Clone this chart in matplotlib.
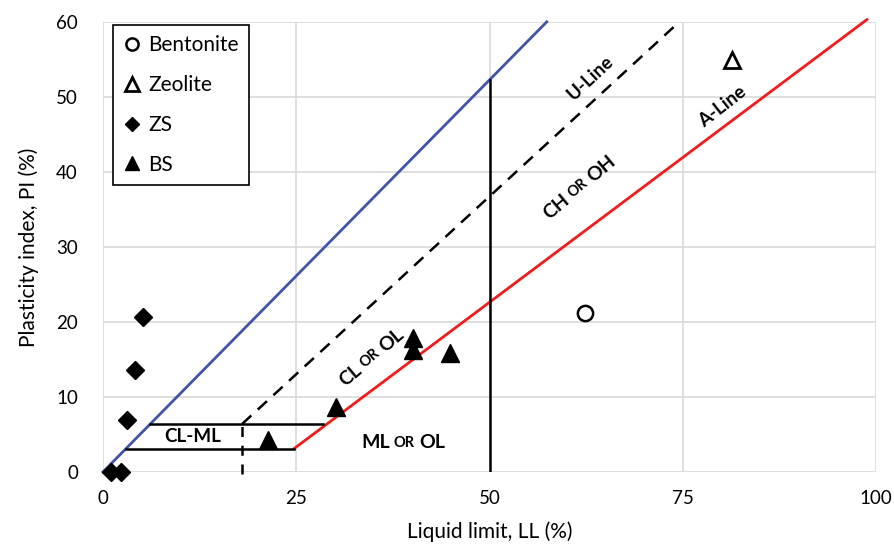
import matplotlib
matplotlib.use('Agg')
import matplotlib.pyplot as plt
import matplotlib.transforms as mtransforms
import numpy as np

plt.rcParams['font.family'] = ['Lato', 'DejaVu Sans']

# sample points (LL, PI)
bentonite_ll = [62.3]
bentonite_pi = [21.2]
zeolite_ll = [81.3]
zeolite_pi = [54.9]
zs_ll = [5.2, 4.2, 3.1, 1.1, 2.3]
zs_pi = [20.7, 13.6, 6.9, 0.0, 0.0]
bs_ll = [21.3, 30.2, 40.1, 40.1, 44.9]
bs_pi = [4.3, 8.7, 17.9, 16.3, 15.9]

# chart boundary lines
blue_ll = [0, 57.4]
blue_pi = [0, 60]
u_line_ll = [18.0, 73.8]
u_line_pi = [6.4, 59.3]
a_line_ll = [24.7, 98.8]
a_line_pi = [3.1, 60.3]
ll50_ll = [50, 50]
ll50_pi = [0, 52.3]
clml_top_ll = [6.1, 28.4]
clml_top_pi = [6.4, 6.4]
clml_bot_ll = [3.0, 24.7]
clml_bot_pi = [3.1, 3.1]
ll18_ll = [18.0, 18.0]
ll18_pi = [-0.3, 7.0]

x_ticks = [0, 25, 50, 75, 100]
y_ticks = [0, 10, 20, 30, 40, 50, 60]

fig = plt.figure(figsize=(8.95, 5.51), dpi=100)
ax = fig.add_axes([0.115, 0.1434, 0.864, 0.817])

ax.set_xlim(0, 100)
ax.set_ylim(0, 60)
ax.set_xticks(x_ticks)
ax.set_yticks(y_ticks)
ax.tick_params(axis='x', length=0, labelsize=13.5, pad=13)
ax.tick_params(axis='y', length=0, labelsize=13.5, pad=18)
ax.grid(True, color='#d9d9d9', lw=1.2)
ax.set_axisbelow(True)
for s in ax.spines.values():
    s.set_visible(False)

ax.set_xlabel('Liquid limit, LL (%)', fontsize=15, labelpad=10)
ax.set_ylabel('Plasticity index, PI (%)', fontsize=15, labelpad=12)

ax.plot(blue_ll, blue_pi, color='#4254a8', lw=2, clip_on=False)
ax.plot(a_line_ll, a_line_pi, color='#f21c1c', lw=2, clip_on=False)
ax.plot(u_line_ll, u_line_pi, color='black', lw=1.8, dashes=(5, 3.5))
ax.plot(ll50_ll, ll50_pi, color='black', lw=1.8)
ax.plot(clml_top_ll, clml_top_pi, color='black', lw=1.8)
ax.plot(clml_bot_ll, clml_bot_pi, color='black', lw=1.8)
ax.plot(ll18_ll, ll18_pi, color='black', lw=1.8, dashes=(4, 3.5), clip_on=False)

ax.plot(bentonite_ll, bentonite_pi, 'o', ms=11, mfc='white', mec='black', mew=1.8,
        ls='none', label='Bentonite', clip_on=False)
ax.plot(zeolite_ll, zeolite_pi, '^', ms=12, mfc='white', mec='black', mew=2,
        ls='none', label='Zeolite', clip_on=False)
ax.plot(zs_ll, zs_pi, 'D', ms=9, color='black', ls='none', label='ZS', clip_on=False)
ax.plot(bs_ll, bs_pi, '^', ms=13, color='black', ls='none', label='BS', clip_on=False)

leg = ax.legend(loc='upper left', bbox_to_anchor=(0.013, 0.993), fontsize=15,
                frameon=True, fancybox=False, edgecolor='black', framealpha=1,
                labelspacing=0.95, handlelength=0.8, handletextpad=0.4,
                borderpad=0.5, borderaxespad=0, markerscale=0.8)
leg.get_frame().set_linewidth(1.2)

renderer = fig.canvas.get_renderer()


def small_caps_label(x, y, parts, angle):
    # parts: list of (text, fontsize); laid out along the angle, centered at (x, y)
    widths = []
    for txt, size in parts:
        t = ax.text(0, 0, txt, fontsize=size, fontweight='bold')
        widths.append(t.get_window_extent(renderer).width)
        t.remove()
    gap = 4
    total = sum(widths) + gap * (len(parts) - 1)
    rad = np.deg2rad(angle)
    pos = -total / 2
    for (txt, size), w in zip(parts, widths):
        dx = pos * np.cos(rad)
        dy = pos * np.sin(rad)
        tr = mtransforms.offset_copy(ax.transData, fig=fig, x=dx, y=dy, units='dots')
        ax.text(x, y, txt, fontsize=size, fontweight='bold', rotation=angle,
                rotation_mode='anchor', ha='left', va='center_baseline', transform=tr)
        pos += w + gap


ax.text(11.6, 4.7, 'CL-ML', fontsize=13.5, fontweight='bold', ha='center', va='center')
small_caps_label(38.8, 4.1, [('ML', 14), ('OR', 10.5), ('OL', 14)], 0)
small_caps_label(34.6, 15.4, [('CL', 14), ('OR', 10.5), ('OL', 14)], 40)
small_caps_label(61.5, 38.1, [('CH', 14), ('OR', 10.5), ('OH', 14)], 40)
ax.text(63.1, 52.5, 'U-Line', fontsize=13.5, fontweight='bold', rotation=43,
        ha='center', va='center', rotation_mode='anchor')
ax.text(80.1, 48.7, 'A-Line', fontsize=13.5, fontweight='bold', rotation=38,
        ha='center', va='center', rotation_mode='anchor')

fig.savefig('out.png', dpi=100)
